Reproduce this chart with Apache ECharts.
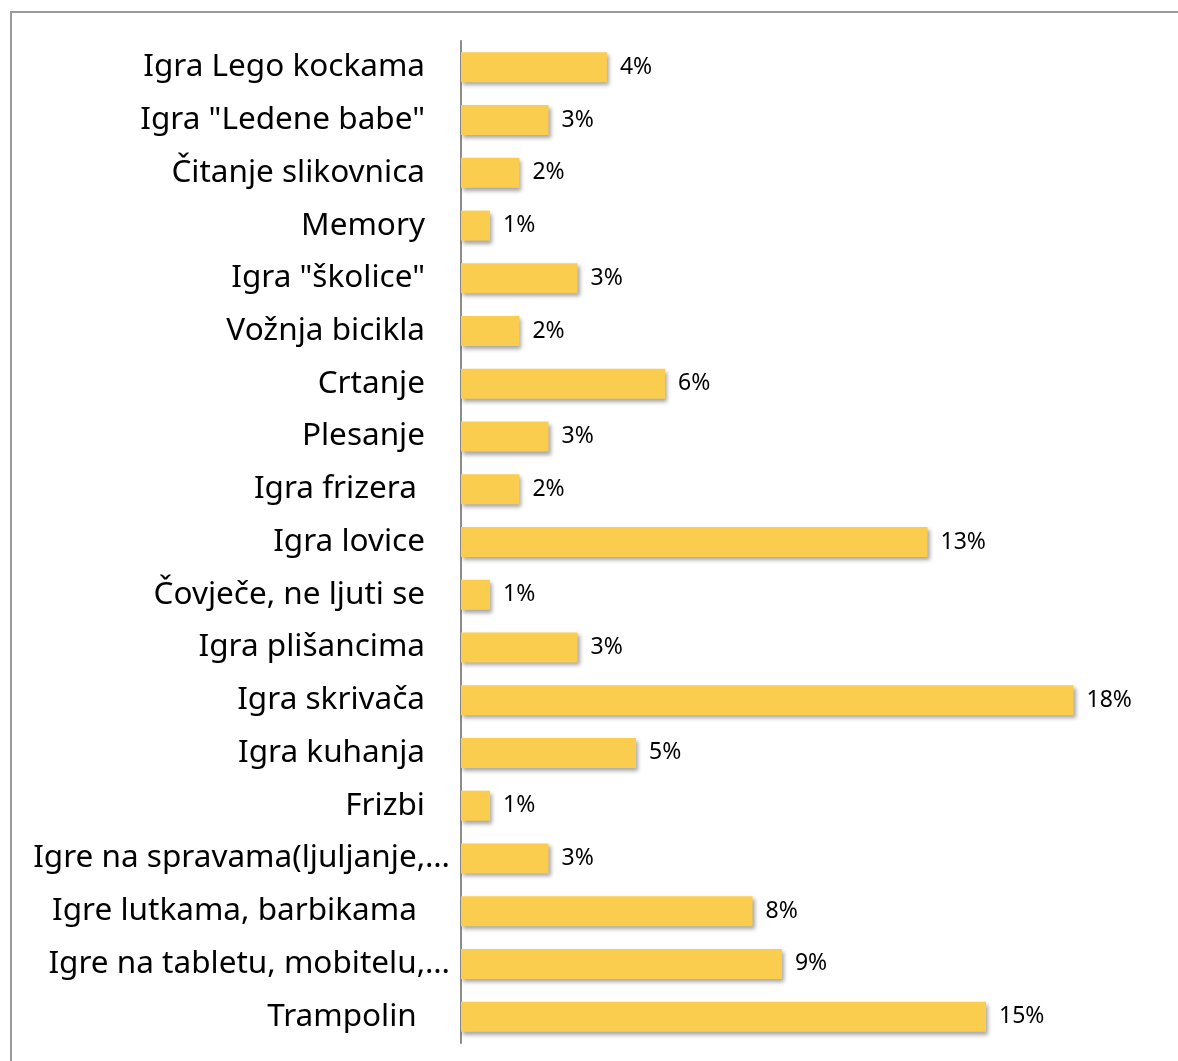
<!DOCTYPE html>
<html>
<head>
<meta charset="utf-8">
<script src="https://cdn.jsdelivr.net/npm/echarts@6/dist/echarts.min.js"></script>
<style>
  html, body { margin: 0; padding: 0; background: #fff; }
  #chart { width: 1178px; height: 1061px; }
</style>
</head>
<body>
<div id="chart"></div>
<script>
// activities, top to bottom as drawn
const categories = [
  'Igra Lego kockama',
  'Igra "Ledene babe"',
  'Čitanje slikovnica',
  'Memory',
  'Igra "školice"',
  'Vožnja bicikla',
  'Crtanje',
  'Plesanje',
  'Igra frizera ',
  'Igra lovice',
  'Čovječe, ne ljuti se',
  'Igra plišancima',
  'Igra skrivača',
  'Igra kuhanja',
  'Frizbi',
  'Igre na spravama(ljuljanje,…',
  'Igre lutkama, barbikama ',
  'Igre na tabletu, mobitelu,…',
  'Trampolin '
];
// share of answers in %
const values = [4.17, 2.5, 1.67, 0.83, 3.33, 1.67, 5.83, 2.5, 1.67, 13.33, 0.83, 3.33, 17.5, 5, 0.83, 2.5, 8.33, 9.17, 15];

let myChart = echarts.init(document.getElementById('chart'));
let option = {
    animation: false,
    graphic: [{
        type: 'rect',
        shape: { x: 11, y: 12, width: 1300, height: 1200 },
        style: { fill: 'none', stroke: '#9a9a9a', lineWidth: 2 }
    }],
    grid: {
        left: 461,
        width: 700,
        top: 41,
        bottom: 18
    },
    xAxis: {
        type: 'value',
        min: 0,
        max: 20,
        axisLabel: { show: false },
        axisLine: { show: false },
        axisTick: { show: false },
        splitLine: { show: false }
    },
    yAxis: {
        type: 'category',
        inverse: true,
        data: categories,
        axisTick: { show: false },
        axisLine: {
            lineStyle: { color: '#8c8c8c', width: 2 }
        },
        axisLabel: {
            margin: 11,
            formatter: function (v) {
                // truncated labels sit closer to the axis
                return v.endsWith('…') ? '{t|' + v + '}' : '{n|' + v + '}';
            },
            rich: {
                n: { fontFamily: 'Noto Sans', fontSize: 31.5, color: '#000', padding: [0, 25, 0, 0] },
                t: { fontFamily: 'Noto Sans', fontSize: 31.5, color: '#000' }
            }
        }
    },
    series: [{
        type: 'bar',
        data: values,
        barWidth: 30,
        itemStyle: {
            color: '#fbcd4e',
            shadowColor: 'rgba(0,0,0,0.35)',
            shadowBlur: 4,
            shadowOffsetX: 2,
            shadowOffsetY: 3
        },
        label: {
            show: true,
            position: 'right',
            distance: 13,
            color: '#000',
            fontFamily: 'Noto Sans',
            fontSize: 23,
            formatter: function (p) { return Math.round(p.value) + '%'; }
        }
    }]
};
myChart.setOption(option);
</script>
</body>
</html>
